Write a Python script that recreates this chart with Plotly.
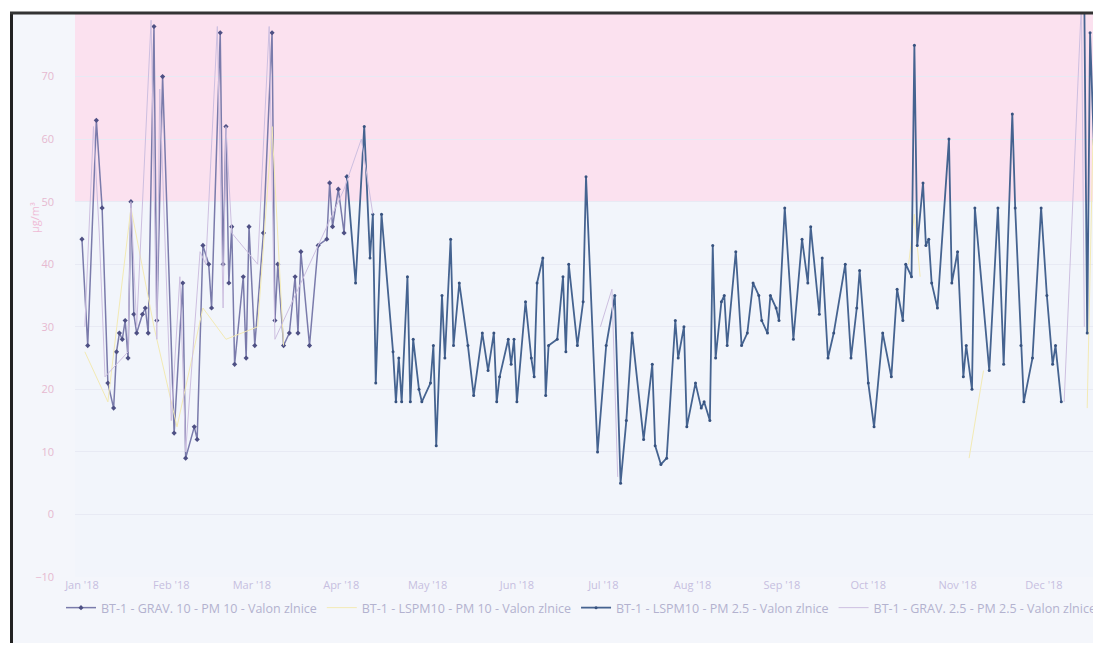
import plotly.graph_objects as go

# ── Data (µg/m³) ─────────────────────────────────────────────────────────────

# BT-1 - GRAV. 10 - PM 10 (Jan - early Apr)
grav10_dates = [
    "2018-01-01", "2018-01-03", "2018-01-06", "2018-01-08", "2018-01-10", "2018-01-12",
    "2018-01-13", "2018-01-14", "2018-01-15", "2018-01-16", "2018-01-17", "2018-01-18",
    "2018-01-19", "2018-01-20", "2018-01-22", "2018-01-23", "2018-01-24", "2018-01-26",
    "2018-01-27", "2018-01-29", "2018-02-02", "2018-02-05", "2018-02-06", "2018-02-09",
    "2018-02-10", "2018-02-12", "2018-02-14", "2018-02-15", "2018-02-18", "2018-02-19",
    "2018-02-20", "2018-02-21", "2018-02-22", "2018-02-23", "2018-02-26", "2018-02-27",
    "2018-02-28", "2018-03-02", "2018-03-05", "2018-03-08", "2018-03-09", "2018-03-10",
    "2018-03-12", "2018-03-14", "2018-03-16", "2018-03-17", "2018-03-18", "2018-03-21",
    "2018-03-24", "2018-03-27", "2018-03-28", "2018-03-29", "2018-03-31", "2018-04-02",
    "2018-04-03",
]
grav10_vals = [
    44, 27, 63, 49, 21, 17,
    26, 29, 28, 31, 25, 50,
    32, 29, 32, 33, 29, 78,
    31, 70, 13, 37, 9, 14,
    12, 43, 40, 33, 77, 40,
    62, 37, 46, 24, 38, 25,
    46, 27, 45, 77, 31, 40,
    27, 29, 38, 29, 42, 27,
    43, 44, 53, 46, 52, 45,
    54,
]

# BT-1 - LSPM10 - PM 2.5 (Apr - Dec)
lspm25_dates = [
    "2018-04-03", "2018-04-06", "2018-04-09", "2018-04-11", "2018-04-12", "2018-04-13",
    "2018-04-15", "2018-04-19", "2018-04-20", "2018-04-21", "2018-04-22", "2018-04-24",
    "2018-04-25", "2018-04-26", "2018-04-28", "2018-04-29", "2018-05-02", "2018-05-03",
    "2018-05-04", "2018-05-06", "2018-05-07", "2018-05-09", "2018-05-10", "2018-05-12",
    "2018-05-15", "2018-05-17", "2018-05-20", "2018-05-22", "2018-05-24", "2018-05-25",
    "2018-05-26", "2018-05-29", "2018-05-30", "2018-05-31", "2018-06-01", "2018-06-04",
    "2018-06-06", "2018-06-07", "2018-06-08", "2018-06-10", "2018-06-11", "2018-06-12",
    "2018-06-15", "2018-06-17", "2018-06-18", "2018-06-19", "2018-06-22", "2018-06-24",
    "2018-06-25", "2018-06-29", "2018-07-02", "2018-07-05", "2018-07-07", "2018-07-09",
    "2018-07-11", "2018-07-15", "2018-07-18", "2018-07-19", "2018-07-21", "2018-07-23",
    "2018-07-26", "2018-07-27", "2018-07-29", "2018-07-30", "2018-08-02", "2018-08-04",
    "2018-08-05", "2018-08-07", "2018-08-08", "2018-08-09", "2018-08-11", "2018-08-12",
    "2018-08-13", "2018-08-16", "2018-08-18", "2018-08-20", "2018-08-22", "2018-08-24",
    "2018-08-25", "2018-08-27", "2018-08-28", "2018-08-30", "2018-08-31", "2018-09-02",
    "2018-09-05", "2018-09-08", "2018-09-10", "2018-09-11", "2018-09-14", "2018-09-15",
    "2018-09-17", "2018-09-19", "2018-09-23", "2018-09-25", "2018-09-27", "2018-09-28",
    "2018-10-01", "2018-10-03", "2018-10-06", "2018-10-09", "2018-10-11", "2018-10-13",
    "2018-10-14", "2018-10-16", "2018-10-17", "2018-10-18", "2018-10-20", "2018-10-21",
    "2018-10-22", "2018-10-23", "2018-10-25", "2018-10-29", "2018-10-30", "2018-11-01",
    "2018-11-03", "2018-11-04", "2018-11-06", "2018-11-07", "2018-11-12", "2018-11-15",
    "2018-11-17", "2018-11-20", "2018-11-21", "2018-11-23", "2018-11-24", "2018-11-27",
    "2018-11-30", "2018-12-02", "2018-12-04", "2018-12-05", "2018-12-07", "2018-12-10",
    "2018-12-15", "2018-12-16", "2018-12-17", "2018-12-20", "2018-12-22",
]
lspm25_vals = [
    54, 37, 62, 41, 48, 21,
    48, 26, 18, 25, 18, 38,
    18, 28, 20, 18, 21, 27,
    11, 35, 25, 44, 27, 37,
    27, 19, 29, 23, 29, 18,
    22, 28, 24, 28, 18, 34,
    25, 22, 37, 41, 19, 27,
    28, 38, 26, 40, 27, 34,
    54, 10, 27, 35, 5, 15,
    29, 12, 24, 11, 8, 9,
    31, 25, 30, 14, 21, 17,
    18, 15, 43, 25, 34, 35,
    27, 42, 27, 29, 37, 35,
    31, 29, 35, 33, 31, 49,
    28, 44, 37, 46, 32, 41,
    25, 29, 40, 25, 33, 39,
    21, 14, 29, 22, 36, 31,
    40, 38, 75, 43, 53, 43,
    44, 37, 33, 60, 37, 42,
    22, 27, 20, 49, 23, 49,
    24, 64, 49, 27, 18, 25,
    49, 35, 24, 27, 18, None,
    82, 29, 77, 36, 30,
]

# BT-1 - LSPM10 - PM 10 (faint yellow, None = no data)
lspm10_dates = [
    "2018-01-02", "2018-01-10", "2018-01-18", "2018-01-26", "2018-02-03", "2018-02-12",
    "2018-02-20", "2018-03-03", "2018-03-08", "2018-03-12", "2018-03-13", "2018-10-15",
    "2018-10-17", "2018-10-19", "2018-10-20", "2018-11-05", "2018-11-10", "2018-11-11",
    "2018-12-16", "2018-12-18", "2018-12-20",
]
lspm10_vals = [
    26, 18, 49, 30, 14, 33,
    28, 30, 62, 27, None, 40,
    48, 38, None, 9, 23, None,
    17, 60, 32,
]

# BT-1 - GRAV. 2.5 - PM 2.5 (thin lavender, None = no data)
grav25_dates = [
    "2018-01-02", "2018-01-05", "2018-01-07", "2018-01-09", "2018-01-17", "2018-01-18",
    "2018-01-20", "2018-01-25", "2018-01-27", "2018-01-28", "2018-02-01", "2018-02-04",
    "2018-02-06", "2018-02-11", "2018-02-13", "2018-02-17", "2018-02-19", "2018-02-20",
    "2018-02-22", "2018-03-03", "2018-03-07", "2018-03-09", "2018-03-29", "2018-04-02",
    "2018-04-08", "2018-04-12", "2018-04-13", "2018-06-30", "2018-07-04", "2018-07-06",
    "2018-07-07", "2018-12-08", "2018-12-14", "2018-12-15",
]
grav25_vals = [
    30, 62, 45, 22, 26, 50,
    30, 79, 28, 68, 15, 38,
    10, 42, 40, 78, 33, 62,
    45, 40, 78, 28, 48, 52,
    60, 48, None, 30, 36, 6,
    None, 18, 82, 30,
]

y_ticks = [-10, 0, 10, 20, 30, 40, 50, 60, 70]
x_tickvals = ["2018-%02d-01" % m for m in range(1, 13)]
x_ticktext = ["Jan '18", "Feb '18", "Mar '18", "Apr '18", "May '18", "Jun '18",
              "Jul '18", "Aug '18", "Sep '18", "Oct '18", "Nov '18", "Dec '18"]
limit_band = (50, 80)

# ── Figure ────────────────────────────────────────────────────────────────────

OFF = 8  # default body margin of the page
W, H = 1101 - OFF, 651 - 2 * OFF
ML, MR, MT = 75 - OFF, 0, 14 - OFF
MB = H - (577 - OFF)
PW, PH = W - ML - MR, H - MT - MB


def px_x(px):
    # page pixel -> paper coordinate
    return (px - OFF - ML) / PW


def px_y(py):
    return (H - MB - (py - OFF)) / PH


fig = go.Figure()

fig.add_trace(go.Scatter(
    x=grav10_dates, y=grav10_vals, mode="lines+markers",
    name="BT-1 - GRAV. 10 - PM 10 - Valon zlnice",
    line=dict(color="#7a7bab", width=1.5),
    marker=dict(symbol="diamond", size=4, color="#4e5084"),
))
fig.add_trace(go.Scatter(
    x=lspm10_dates, y=lspm10_vals, mode="lines",
    name="BT-1 - LSPM10 - PM 10 - Valon zlnice",
    line=dict(color="#f3eab4", width=1),
    connectgaps=False,
))
fig.add_trace(go.Scatter(
    x=lspm25_dates, y=lspm25_vals, mode="lines+markers",
    name="BT-1 - LSPM10 - PM 2.5 - Valon zlnice",
    line=dict(color="#456390", width=1.8),
    marker=dict(symbol="circle", size=3, color="#37527f"),
    connectgaps=False,
))
fig.add_trace(go.Scatter(
    x=grav25_dates, y=grav25_vals, mode="lines",
    name="BT-1 - GRAV. 2.5 - PM 2.5 - Valon zlnice",
    line=dict(color="#cdbfe0", width=1),
    connectgaps=False,
))

shapes = [
    # limit band above 50 µg/m³
    dict(type="rect", xref="paper", yref="y", x0=0, x1=1, y0=limit_band[0], y1=limit_band[1],
         fillcolor="#fbe1ef", line=dict(width=0), layer="below"),
    # scan margins and frame
    dict(type="rect", xref="paper", yref="paper", x0=px_x(0), x1=px_x(10), y0=px_y(660), y1=px_y(0),
         fillcolor="#ffffff", line=dict(width=0), layer="above"),
    dict(type="rect", xref="paper", yref="paper", x0=px_x(0), x1=px_x(1110), y0=px_y(12), y1=px_y(0),
         fillcolor="#ffffff", line=dict(width=0), layer="above"),
    dict(type="line", xref="paper", yref="paper", x0=px_x(11.5), x1=px_x(11.5), y0=px_y(655), y1=px_y(12),
         line=dict(color="#222222", width=3), layer="above"),
    dict(type="line", xref="paper", yref="paper", x0=px_x(10), x1=px_x(1110), y0=px_y(13), y1=px_y(13),
         line=dict(color="#333333", width=3), layer="above"),
]

fig.update_layout(
    width=W, height=H,
    margin=dict(l=ML, r=MR, t=MT, b=MB),
    paper_bgcolor="#f4f6fb",
    plot_bgcolor="#f2f5fb",
    font=dict(family="Open Sans, sans-serif", size=11, color="#c4bedc"),
    showlegend=True,
    shapes=shapes,
    xaxis=dict(
        type="date",
        range=["2017-12-29 14:00", "2018-12-20 19:00"],
        tickvals=x_tickvals, ticktext=x_ticktext,
        tickfont=dict(size=11, color="#c6bee0"),
        showgrid=False, zeroline=False, showline=False,
    ),
    yaxis=dict(
        range=[-10, 80],
        tickvals=y_ticks,
        tickfont=dict(size=11, color="#e6b9d0"),
        ticklabelstandoff=20,
        showgrid=True, gridcolor="#e8eaf4", gridwidth=1,
        zeroline=False, showline=False,
    ),
    legend=dict(
        orientation="h", x=px_x(70), xanchor="left", y=px_y(608), yanchor="middle",
        font=dict(size=12.5, color="#b3b2cf"),
        bgcolor="rgba(0,0,0,0)", itemwidth=30,
    ),
    annotations=[
        dict(text="µg/m³", xref="paper", yref="paper", x=px_x(25), y=px_y(200),
             showarrow=False, textangle=-90, font=dict(size=11, color="#efbcd6")),
    ],
)

fig.write_html("out.html", config={"responsive": False})
